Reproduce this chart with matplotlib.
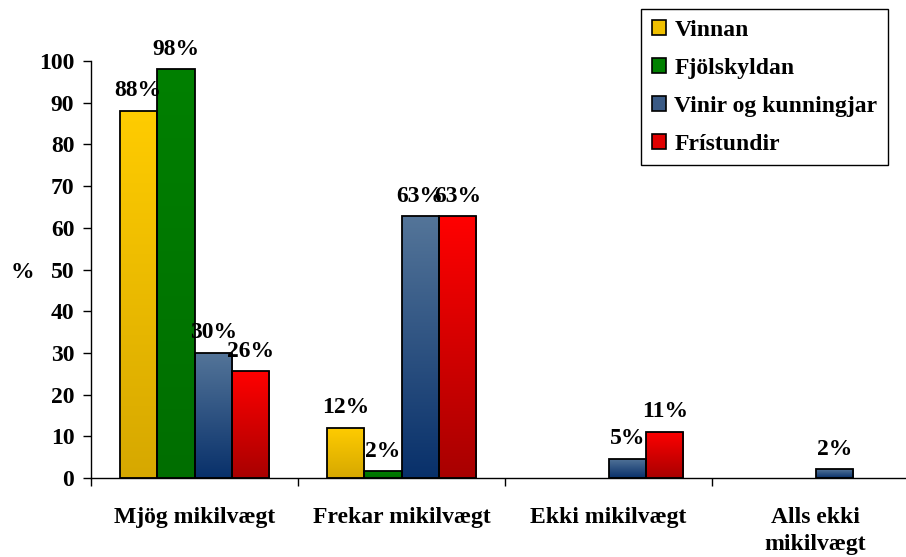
import matplotlib
matplotlib.use('Agg')
import matplotlib.pyplot as plt
import numpy as np
from matplotlib.colors import LinearSegmentedColormap
from matplotlib.patches import Patch

# data
categories = ['Mjög mikilvægt', 'Frekar mikilvægt', 'Ekki mikilvægt', 'Alls ekki\nmikilvægt']
series_names = ['Vinnan', 'Fjölskyldan', 'Vinir og kunningjar', 'Frístundir']
vinnan = [88, 12, 0, 0]
fjolskyldan = [98, 1.6, 0, 0]
vinir = [30, 62.8, 4.6, 2.1]
fristundir = [25.6, 62.8, 11.1, 0]
y_ticks = list(range(0, 101, 10))

# gradient colours, top -> bottom
grad_colors = [('#ffcc00', '#d6a800'),
               ('#008000', '#006e00'),
               ('#547599', '#08306a'),
               ('#ff0000', '#a80000')]

plt.rcParams['font.family'] = ['Liberation Serif', 'DejaVu Serif']
plt.rcParams['font.weight'] = 'bold'
fs = 17

fig = plt.figure(figsize=(9.06, 5.57), dpi=100)
ax = fig.add_axes([91 / 906, 79 / 557, 828 / 906, 417 / 557])

x = np.arange(len(categories))
width = 0.181
grad = np.linspace(1, 0, 256).reshape(-1, 1)
for i, vals in enumerate([vinnan, fjolskyldan, vinir, fristundir]):
    cmap = LinearSegmentedColormap.from_list('g%d' % i, [grad_colors[i][1], grad_colors[i][0]])
    pos = x + (i - 1.5) * width
    for xp, v in zip(pos, vals):
        if v <= 0:
            continue
        bar = ax.bar(xp, v, width, color='none', edgecolor='black', linewidth=1.3, zorder=3)[0]
        im = ax.imshow(grad, extent=[xp - width / 2, xp + width / 2, 0, v], aspect='auto',
                       cmap=cmap, vmin=0, vmax=1, zorder=2, interpolation='bilinear')
        im.set_clip_path(bar)
        ax.text(xp, v + 2.3, '{:.0f}%'.format(v), ha='center', va='bottom',
                fontsize=fs, fontweight='bold', zorder=4)

ax.set_xlim(-0.5, 3.5)
ax.set_ylim(0, 100)
ax.set_yticks(y_ticks)
ax.set_yticklabels([str(t) for t in y_ticks], fontsize=fs, fontweight='bold')
ax.tick_params(axis='y', length=6, width=1, direction='out', pad=6)

# boundary ticks as major, category labels as minor
ax.set_xticks(np.arange(-0.5, 4.0, 1.0))
ax.set_xticklabels([])
ax.set_xticks(x, minor=True)
ax.set_xticklabels(categories, minor=True, fontsize=fs, fontweight='bold', va='top', linespacing=1.35)
ax.tick_params(axis='x', which='major', length=6, width=1, direction='out')
ax.tick_params(axis='x', which='minor', length=0, pad=21)

for s in ['top', 'right']:
    ax.spines[s].set_visible(False)
ax.spines['left'].set_linewidth(1)
ax.spines['bottom'].set_linewidth(1)

ax.set_ylabel('%', rotation=0, fontsize=fs, fontweight='bold', va='center', ha='center')
ax.yaxis.set_label_coords(-0.083, 0.494)

handles = [Patch(facecolor=c[0], edgecolor='black', linewidth=1.2) for c in grad_colors]
handles[0].set_facecolor('#f0c000')
handles[2].set_facecolor('#3a5a85')
handles[3].set_facecolor('#e00000')
leg = fig.legend(handles, series_names, loc='upper right', bbox_to_anchor=(888 / 906, 1 - 9 / 557),
                 borderaxespad=0, frameon=True, fancybox=False, edgecolor='black', framealpha=1,
                 prop={'size': fs, 'weight': 'bold'}, handlelength=0.6, handleheight=0.6,
                 handletextpad=0.35, labelspacing=0.72, borderpad=0.45)
leg.get_frame().set_linewidth(1)

fig.savefig('out.png', dpi=100)
